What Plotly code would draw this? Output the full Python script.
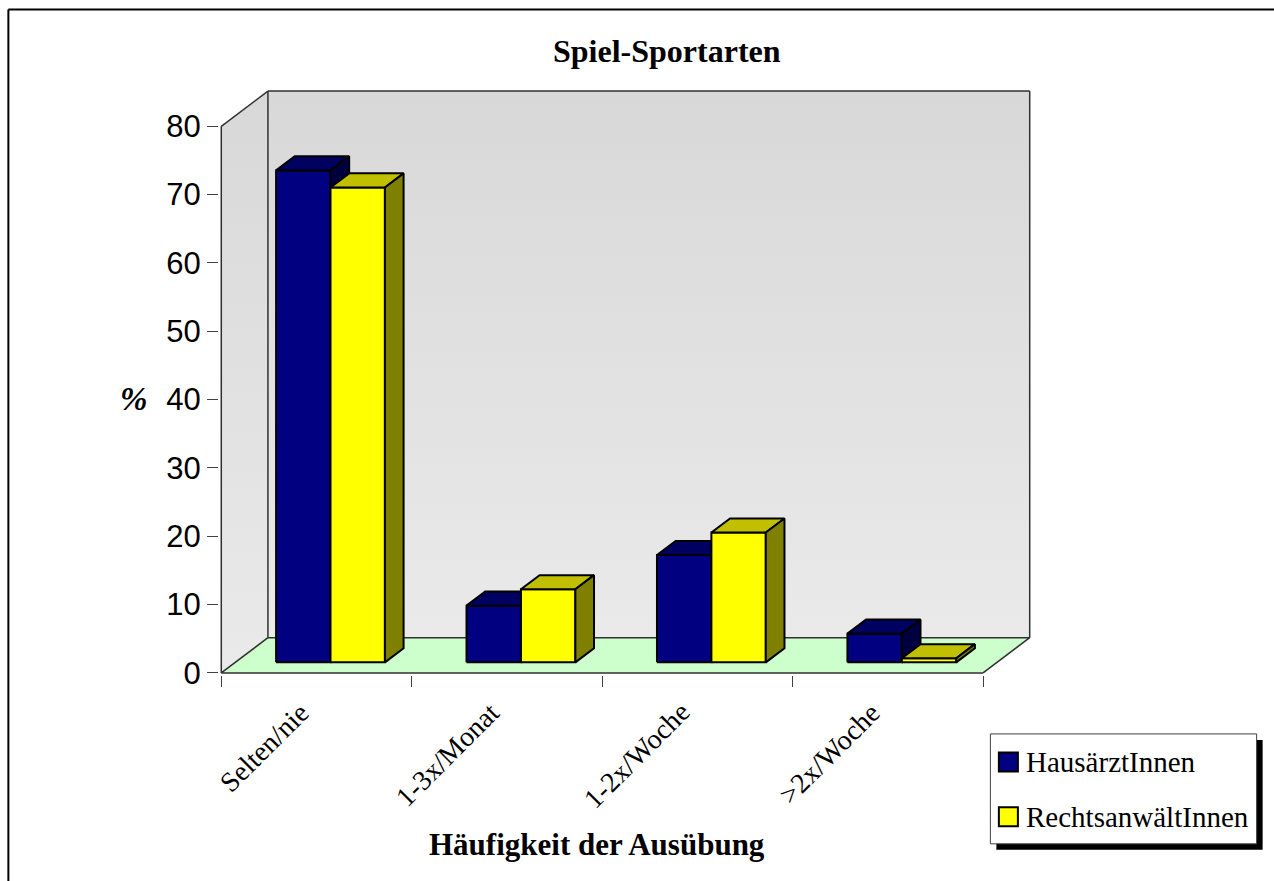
import plotly.graph_objects as go

# ---- data ----
categories = ["Selten/nie", "1-3x/Monat", "1-2x/Woche", ">2x/Woche"]
series_names = ["HausärztInnen", "RechtsanwältInnen"]
hausaerzte = [72.0, 8.3, 15.7, 4.2]
rechtsanwaelte = [69.5, 10.7, 19.0, 0.6]
y_ticks = [0, 10, 20, 30, 40, 50, 60, 70, 80]

series_values = [hausaerzte, rechtsanwaelte]
front_colors = ["#000080", "#FFFF00"]
top_colors = ["#000060", "#C0C000"]
side_colors = ["#000040", "#808000"]

# ---- geometry of the pseudo-3D box (axis units) ----
W, H = 1274, 881
X0PX, XSCALE = 221.7, 190.25      # pixel of x=0, pixels per category
Y0PX, YSCALE = 673.0, 6.8375      # pixel of y=0, pixels per percent
DX, DY = 0.245, 5.16              # full depth offset of the box
PADX, PADY = 0.012, 0.3
YMAX = 80
NCAT = len(categories)
BAR_W = 1 / 3.5                   # gap width 150 %
FRONT, DEPTH = 0.3, 0.4           # bar front position and bar depth (fraction of box depth)

xr = [-PADX, NCAT + DX + PADX]
yr = [-PADY, YMAX + DY + PADY]
m_l = X0PX - PADX * XSCALE
plot_w = (xr[1] - xr[0]) * XSCALE
m_r = W - m_l - plot_w
m_b = H - Y0PX - PADY * YSCALE
plot_h = (yr[1] - yr[0]) * YSCALE
m_t = H - m_b - plot_h


def px(x):
    return (x - m_l) / plot_w


def py(y):
    return (H - m_b - y) / plot_h


SERIF = "Liberation Serif, Times New Roman, serif"
SANS = "Liberation Sans, Arial, sans-serif"

fig = go.Figure()


def poly(xs, ys, fill, line_color="black", width=2.0, gradient=None):
    kw = dict(fillcolor=fill) if gradient is None else dict(fillgradient=gradient)
    fig.add_trace(go.Scatter(
        x=xs + [xs[0]], y=ys + [ys[0]], mode="lines", fill="toself",
        line=dict(color=line_color, width=width), hoverinfo="skip",
        showlegend=False, **kw))


wall_grad = dict(type="vertical", start=DY, stop=YMAX + DY,
                 colorscale=[[0, "#EAEAEA"], [1, "#D8D8D8"]])
left_grad = dict(type="vertical", start=0, stop=YMAX + DY,
                 colorscale=[[0, "#EAEAEA"], [1, "#D8D8D8"]])

# back wall, side wall, floor
poly([DX, NCAT + DX, NCAT + DX, DX], [DY, DY, YMAX + DY, YMAX + DY],
     "#E0E0E0", width=0, line_color="rgba(0,0,0,0)", gradient=wall_grad)
poly([0, DX, DX, 0], [0, DY, YMAX + DY, YMAX],
     "#E0E0E0", width=0, line_color="rgba(0,0,0,0)", gradient=left_grad)
poly([0, NCAT, NCAT + DX, DX], [0, 0, DY, DY], "#CCFFCC",
     width=0, line_color="rgba(0,0,0,0)")

# box edges
edges = [
    ((0, 0), (0, YMAX)), ((0, YMAX), (DX, YMAX + DY)), ((DX, DY), (DX, YMAX + DY)),
    ((DX, YMAX + DY), (NCAT + DX, YMAX + DY)), ((NCAT + DX, DY), (NCAT + DX, YMAX + DY)),
    ((DX, DY), (NCAT + DX, DY)), ((0, 0), (NCAT, 0)), ((NCAT, 0), (NCAT + DX, DY)),
    ((0, 0), (DX, DY)),
]
ex, ey = [], []
for (a, b) in edges:
    ex += [a[0], b[0], None]
    ey += [a[1], b[1], None]
fig.add_trace(go.Scatter(x=ex, y=ey, mode="lines", line=dict(color="#303030", width=1.5),
                         hoverinfo="skip", showlegend=False))

# bars: front, top and side faces
ox, oy = DEPTH * DX, DEPTH * DY
for i in range(NCAT):
    for s, vals in enumerate(series_values):
        v = vals[i]
        x0 = i + 0.5 + FRONT * DX + (s - 1) * BAR_W
        x1 = x0 + BAR_W
        yb = FRONT * DY
        yt = yb + v
        poly([x0, x1, x1, x0], [yb, yb, yt, yt], front_colors[s])
        poly([x0, x1, x1 + ox, x0 + ox], [yt, yt, yt + oy, yt + oy], top_colors[s])
        poly([x1, x1 + ox, x1 + ox, x1], [yb, yb + oy, yt + oy, yt], side_colors[s])

annotations = []
# category labels
for i, c in enumerate(categories):
    annotations.append(dict(x=i + 0.5, y=0, xref="x", yref="y", text=c, showarrow=False,
                            textangle=-45, xanchor="right", yanchor="top",
                            xshift=1, yshift=-21,
                            font=dict(family=SERIF, size=28, color="black")))

# titles
annotations.append(dict(x=px(667), y=py(51), xref="paper", yref="paper",
                        text="<b>Spiel-Sportarten</b>", showarrow=False,
                        xanchor="center", yanchor="middle",
                        font=dict(family=SERIF, size=32, color="black")))
annotations.append(dict(x=px(597.5), y=py(845), xref="paper", yref="paper",
                        text="<b>Häufigkeit der Ausübung</b>", showarrow=False,
                        xanchor="center", yanchor="middle",
                        font=dict(family=SERIF, size=31, color="black")))
annotations.append(dict(x=px(135), y=py(399), xref="paper", yref="paper",
                        text="<b><i>%</i></b>", showarrow=False,
                        xanchor="center", yanchor="middle",
                        font=dict(family=SERIF, size=33, color="black")))

shapes = []
# outer frame (top and left edges)
shapes.append(dict(type="line", xref="paper", yref="paper", x0=px(9), x1=px(W + 5),
                   y0=py(9), y1=py(9), line=dict(color="black", width=2)))
shapes.append(dict(type="line", xref="paper", yref="paper", x0=px(9), x1=px(9),
                   y0=py(9), y1=py(H + 5), line=dict(color="black", width=2)))

# legend box with drop shadow
shapes.append(dict(type="rect", xref="paper", yref="paper", x0=px(996), x1=px(1262),
                   y0=py(740), y1=py(850), fillcolor="black", line=dict(width=0)))
shapes.append(dict(type="rect", xref="paper", yref="paper", x0=px(990), x1=px(1256),
                   y0=py(734), y1=py(844), fillcolor="white",
                   line=dict(color="#404040", width=1)))
for s, name in enumerate(series_names):
    cy = 762 + 55 * s
    shapes.append(dict(type="rect", xref="paper", yref="paper", x0=px(998.5), x1=px(1017.5),
                       y0=py(cy - 9.5), y1=py(cy + 9.5), fillcolor=front_colors[s],
                       line=dict(color="black", width=2)))
    annotations.append(dict(x=px(1024), y=py(cy), xref="paper", yref="paper", text=name,
                            showarrow=False, xanchor="left", yanchor="middle",
                            font=dict(family=SERIF, size=29, color="black")))

fig.update_layout(
    width=W, height=H, autosize=False,
    margin=dict(l=m_l, r=m_r, t=m_t, b=m_b, pad=0),
    paper_bgcolor="white", plot_bgcolor="white",
    showlegend=False,
    xaxis=dict(range=xr, tickvals=list(range(NCAT + 1)), ticks="outside", ticklen=11,
               tickcolor="#404040", tickwidth=1.2, showticklabels=False,
               showgrid=False, zeroline=False, showline=False, fixedrange=True),
    yaxis=dict(range=yr, tickvals=y_ticks, ticktext=[str(t) for t in y_ticks],
               ticks="outside", ticklen=11, tickcolor="#404040", tickwidth=1.2,
               tickfont=dict(family=SANS, size=31, color="black"),
               showgrid=False, zeroline=False, showline=False, fixedrange=True),
    annotations=annotations,
    shapes=shapes,
)

fig.write_html("out.html")
